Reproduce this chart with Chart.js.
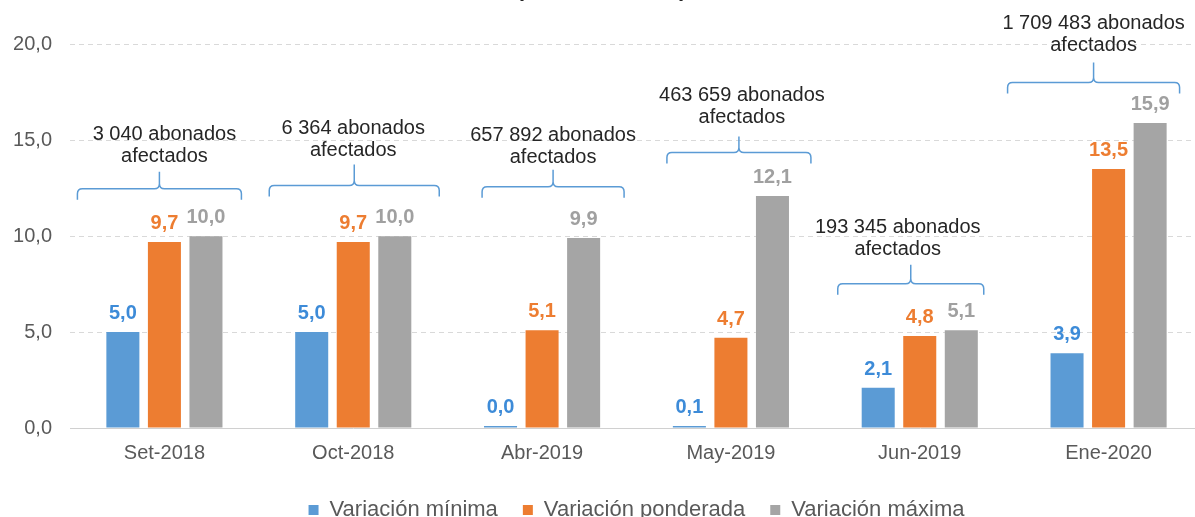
<!DOCTYPE html>
<html>
<head>
<meta charset="utf-8">
<script src="https://cdn.jsdelivr.net/npm/chart.js@4.4.1/dist/chart.umd.min.js"></script>
<style>
  html, body { margin: 0; padding: 0; background: #fff; overflow: hidden; }
  #wrap { position: absolute; left: 0; top: -23px; width: 1215px; height: 563px; }
</style>
</head>
<body>
<div id="wrap"><canvas id="chart"></canvas></div>
<script>
// data
var categories = ["Set-2018", "Oct-2018", "Abr-2019", "May-2019", "Jun-2019", "Ene-2020"];
var variacionMinima = [5.0, 5.0, 0.0, 0.1, 2.1, 3.9];
var variacionPonderada = [9.7, 9.7, 5.1, 4.7, 4.8, 13.5];
var variacionMaxima = [10.0, 10.0, 9.9, 12.1, 5.1, 15.9];
var abonadosAfectados = ["3 040", "6 364", "657 892", "463 659", "193 345", "1 709 483"];
var yTicks = [0, 5, 10, 15, 20];

var colors = { min: "#5B9BD5", pond: "#ED7D31", max: "#A5A5A5" };
var labelColors = ["#3D8BD8", "#ED7D31", "#A0A0A0"];
var FONT = "'Liberation Sans', Arial, sans-serif";

// where each bracket sits: offset from the category centre, half width, y value, tick height, text offset
var bracketLayout = [
  { dx: -5, hw: 82, y: 12.48, tick: 17, tdx: 0, toff: 32 },
  { dx: 1, hw: 85, y: 12.64, tick: 21, tdx: 0, toff: 35 },
  { dx: 11, hw: 71, y: 12.58, tick: 17, tdx: 11, toff: 29 },
  { dx: 8, hw: 72, y: 14.36, tick: 16, tdx: 11, toff: 35 },
  { dx: -9, hw: 73, y: 7.52, tick: 19, tdx: -22, toff: 34 },
  { dx: -15, hw: 86, y: 18.02, tick: 20, tdx: -15, toff: 37 },
];

fmt = (v) => v.toFixed(1).replace(".", ",");

// value labels above bars
const valueLabels = {
  id: "valueLabels",
  afterDatasetsDraw(chart) {
    const ctx = chart.ctx;
    ctx.save();
    ctx.textAlign = "center";
    ctx.textBaseline = "alphabetic";
    chart.data.datasets.forEach((ds, i) => {
      const meta = chart.getDatasetMeta(i);
      ctx.fillStyle = labelColors[i];
      ctx.font = "bold 20px " + FONT;
      meta.data.forEach((bar, j) => {
        ctx.fillText(fmt(ds.data[j]), bar.x, bar.y - 13);
      });
    });
    ctx.restore();
  },
};

// brackets with "abonados afectados"
const brackets = {
  id: "brackets",
  afterDatasetsDraw(chart) {
    const ctx = chart.ctx;
    const xs = chart.scales.x;
    const ys = chart.scales.y;
    ctx.save();
    categories.forEach((c, i) => {
      const b = bracketLayout[i];
      const cx = xs.getPixelForValue(i) + b.dx;
      const y = ys.getPixelForValue(b.y);
      const l = cx - b.hw, r = cx + b.hw, d = 11, rad = 5;
      ctx.strokeStyle = "#5B9BD5";
      ctx.lineWidth = 1.5;
      ctx.beginPath();
      ctx.moveTo(l, y + d);
      ctx.lineTo(l, y + rad);
      ctx.quadraticCurveTo(l, y, l + rad, y);
      ctx.lineTo(cx - rad, y);
      ctx.quadraticCurveTo(cx, y, cx, y - rad);
      ctx.lineTo(cx, y - b.tick);
      ctx.moveTo(cx, y - rad);
      ctx.quadraticCurveTo(cx, y, cx + rad, y);
      ctx.lineTo(r - rad, y);
      ctx.quadraticCurveTo(r, y, r, y + rad);
      ctx.lineTo(r, y + d);
      ctx.stroke();

      const tx = xs.getPixelForValue(i) + b.tdx;
      ctx.fillStyle = "#262626";
      ctx.font = "20px " + FONT;
      ctx.textAlign = "center";
      ctx.textBaseline = "middle";
      ctx.fillText(abonadosAfectados[i] + " abonados", tx, y - b.toff - 22);
      ctx.fillText("afectados", tx, y - b.toff);
    });
    ctx.restore();
  },
};

// centre the legend under the plot area instead of the canvas
const legendShift = {
  id: "legendShift",
  afterLayout(chart) {
    const lg = chart.legend;
    const off = (chart.chartArea.left + chart.chartArea.right) / 2 - (lg.left + lg.right) / 2;
    lg.left += off;
    lg.right += off;
  },
};

const ctx = document.getElementById("chart").getContext("2d");
const chart = new Chart(ctx, {
  type: "bar",
  data: {
    labels: categories,
    datasets: [
      { label: "Variación mínima", data: variacionMinima, backgroundColor: colors.min },
      { label: "Variación ponderada", data: variacionPonderada, backgroundColor: colors.pond },
      { label: "Variación máxima", data: variacionMaxima, backgroundColor: colors.max },
    ],
  },
  options: {
    responsive: true,
    maintainAspectRatio: false,
    animation: false,
    layout: { padding: { left: 0, right: 12, top: 0, bottom: 9 } },
    datasets: {
      bar: { categoryPercentage: 0.66, barPercentage: 0.795, minBarLength: 2 },
    },
    plugins: {
      title: {
        display: true,
        text: "(Variación en %)",
        color: "#262626",
        font: { family: FONT, size: 22, weight: "bold" },
        padding: { top: 0, bottom: 41 },
      },
      legend: {
        position: "bottom",
        labels: {
          boxWidth: 10,
          boxHeight: 10,
          padding: 25,
          color: "#595959",
          font: { family: FONT, size: 22 },
        },
      },
      tooltip: { enabled: false },
    },
    scales: {
      x: {
        grid: { display: false, drawTicks: false },
        border: { display: true, color: "#D0D0D0", width: 1 },
        ticks: { color: "#595959", font: { family: FONT, size: 20 }, padding: 13 },
        afterFit: (s) => { s.height = 46; },
      },
      y: {
        min: 0,
        max: 20,
        afterBuildTicks: (s) => { s.ticks = yTicks.map((v) => ({ value: v })); },
        grid: {
          drawTicks: false,
          color: (c) => (c.tick && c.tick.value === 0 ? "rgba(0,0,0,0)" : "#D9D9D9"),
        },
        border: { display: false, dash: [5, 4] },
        ticks: {
          color: "#595959",
          font: { family: FONT, size: 20 },
          padding: 18,
          callback: (v) => fmt(v),
        },
        afterFit: (s) => { s.width = 70; },
      },
    },
  },
  plugins: [valueLabels, brackets, legendShift],
});
</script>
</body>
</html>
